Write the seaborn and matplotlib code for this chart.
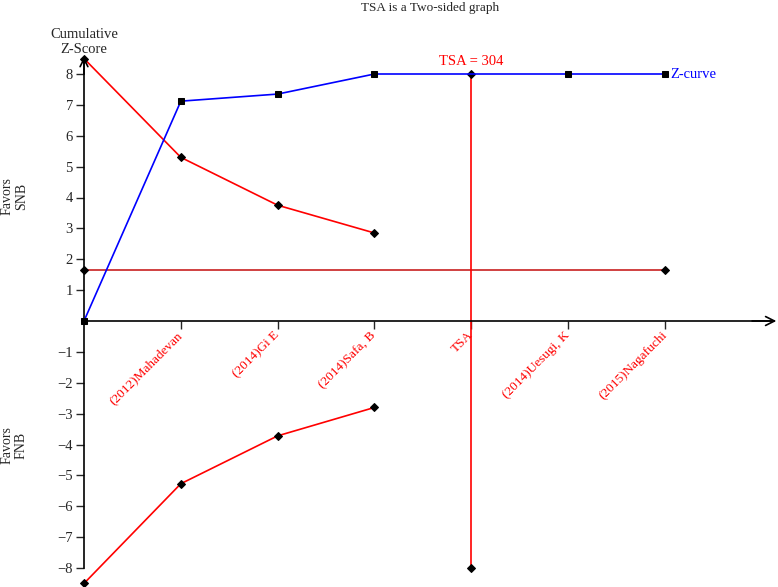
import matplotlib
matplotlib.use("Agg")
import matplotlib.pyplot as plt
import seaborn as sns
import pandas as pd


# Data

study_labels = ["(2012)Mahadevan", "(2014)Gi E", "(2014)Safa, B", "TSA",
                "(2014)Uesugi, K", "(2015)Nagafuchi"]
study_pos = [1, 2, 3, 4, 5, 6]

z_x = [0, 1, 2, 3, 5, 6]
z_curve = [0, 7.12, 7.35, 8.0, 8.0, 8.0]

bound_x = [0, 1, 2, 3]
upper_bound = [8.5, 5.3, 3.75, 2.85]
lower_bound = [-8.5, -5.27, -3.72, -2.8]

conv_x = [0, 6]
conv_bound = [1.65, 1.65]

tsa_x = [4, 4]
tsa_y = [8, -8]

y_ticks = [-8, -7, -6, -5, -4, -3, -2, -1, 1, 2, 3, 4, 5, 6, 7, 8]


sns.set_style("white")
plt.rcParams['font.family'] = ['Liberation Serif', 'DejaVu Serif']
plt.rcParams['axes.unicode_minus'] = True

W, H = 778, 587
fig = plt.figure(figsize=(W / 100, H / 100), dpi=100)

# axes placed so that data units match pixel positions of reference
x_left, x_unit = 84, 96.83
y_zero, y_unit = 321, 30.875
xlim = (0, 7.1)
ylim = (-8.6, 8.6)
ax = fig.add_axes([x_left / W, (H - (y_zero + ylim[0] * -y_unit)) / H,
                   (xlim[1] - xlim[0]) * x_unit / W,
                   (ylim[1] - ylim[0]) * y_unit / H])
ax.set_xlim(*xlim)
ax.set_ylim(*ylim)


# Lines

marker_kw = dict(markerfacecolor="black", markeredgecolor="black",
                 sort=False, estimator=None, clip_on=False)

sns.lineplot(x=conv_x, y=conv_bound, ax=ax, color="#c82020", lw=1.2,
             marker="D", markersize=4.5, **marker_kw)
sns.lineplot(x=bound_x, y=upper_bound, ax=ax, color="red", lw=1.2,
             marker="D", markersize=4.5, **marker_kw)
sns.lineplot(x=bound_x, y=lower_bound, ax=ax, color="red", lw=1.2,
             marker="D", markersize=4.5, **marker_kw)
sns.lineplot(x=tsa_x, y=tsa_y, ax=ax, color="red", lw=1.2,
             marker="D", markersize=4.5, **marker_kw)
sns.lineplot(x=z_x, y=z_curve, ax=ax, color="blue", lw=1.2,
             marker="s", markersize=5, zorder=3, **marker_kw)


# Axes look

for s in ["top", "right"]:
    ax.spines[s].set_visible(False)
ax.spines["left"].set_position(("data", 0))
ax.spines["bottom"].set_position(("data", 0))
ax.spines["left"].set_bounds(-8, 8.5)
ax.spines["bottom"].set_bounds(0, 7.1)
for s in ["left", "bottom"]:
    ax.spines[s].set_color("black")
    ax.spines[s].set_linewidth(1.2)

ax.set_yticks(y_ticks)
ax.set_yticklabels([str(v).replace("-", "\u2212") for v in y_ticks])
ax.set_xticks(study_pos)
ax.set_xticklabels(study_labels, rotation=45, ha="right", va="center",
                   rotation_mode="anchor", color="red")
ax.tick_params(axis="y", direction="out", length=6, width=1, labelsize=10.5,
               left=True, pad=2)
ax.tick_params(axis="x", direction="out", length=6, width=1, labelsize=9.5,
               bottom=True, pad=3)

# arrow heads
ax.annotate("", xy=(7.15, 0), xytext=(6.9, 0), annotation_clip=False,
            arrowprops=dict(arrowstyle="->", lw=1.2, color="black",
                            mutation_scale=16, shrinkA=0, shrinkB=0))
ax.annotate("", xy=(0, 8.55), xytext=(0, 8.0), annotation_clip=False,
            arrowprops=dict(arrowstyle="->", lw=1.2, color="black",
                            mutation_scale=14, shrinkA=0, shrinkB=0))


# Text

ax.text(4, 8.2, "TSA = 304", color="red", ha="center", va="bottom", fontsize=10.5)
ax.text(6.05, 8.0, "Z-curve", color="blue", ha="left", va="center", fontsize=10.5)

fig.text(430 / W, 1 - 8 / H, "TSA is a Two-sided graph", ha="center",
         va="center", fontsize=9.5)
fig.text(84 / W, 1 - 42 / H, "Cumulative\nZ-Score", ha="center", va="center",
         fontsize=10.5, linespacing=1.15)
fig.text(14 / W, 1 - 196 / H, "Favors\nSNB", ha="center", va="center",
         rotation=90, fontsize=10, linespacing=1.15)
fig.text(14 / W, 1 - 445 / H, "Favors\nFNB", ha="center", va="center",
         rotation=90, fontsize=10, linespacing=1.15)

fig.savefig("out.png", dpi=100)
